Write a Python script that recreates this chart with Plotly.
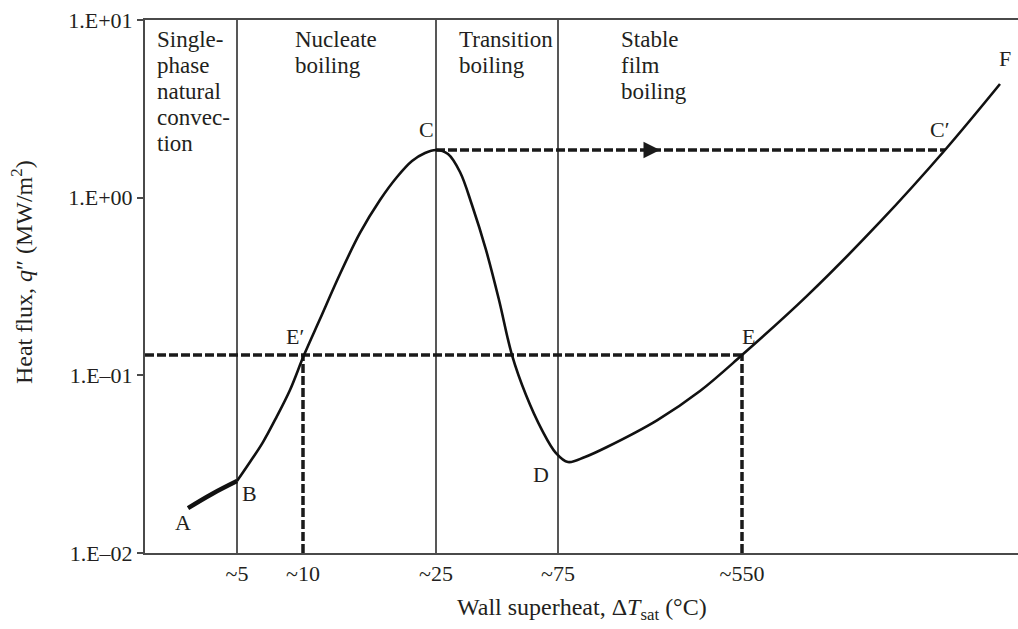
import numpy as np
import plotly.graph_objects as go

# Schematic position along the wall-superheat axis (not to scale)
x_tick_pos = [92, 158, 291, 413, 597]
x_tick_text = ["~5", "~10", "~25", "~75", "~550"]

y_tick_vals = [0.01, 0.1, 1, 10]
y_tick_text = ["1.E–02", "1.E–01", "1.E+00", "1.E+01"]

# Single-phase natural convection, A -> B
ab_pos = [43, 67, 92]
ab_q = [0.0179, 0.0215, 0.0254]

# Boiling curve, B -> E' -> C -> D -> E -> C' -> F  (MW/m2)
curve_pos = [92, 105, 118, 131, 145, 159, 175, 195, 215, 235, 252, 267, 280, 291,
             303, 315, 327, 341, 354, 367, 381, 397, 411, 423,
             440, 462, 512, 555, 597, 662, 735, 800, 855]
curve_q = [0.0254, 0.0325, 0.0421, 0.0575, 0.0827, 0.130, 0.2075, 0.372, 0.633, 0.970,
           1.307, 1.608, 1.784, 1.855,
           1.761, 1.395, 0.909, 0.508, 0.2655, 0.130, 0.0775, 0.0492, 0.0365, 0.0325,
           0.0347, 0.0395, 0.0558, 0.0816, 0.130, 0.280, 0.730, 1.855, 4.36]

# Regime boundaries
regime_bounds = [92, 291, 413]

# Key states
pos_E_prime, pos_E = 158, 597
pos_C, pos_C_prime = 291, 800
q_E = 0.130
q_C = 1.855
arrow_pos = 515

# Point labels: (text, position, q, xshift, yshift)
point_labels = [
    ("A", 43, 0.0179, -5, -14),
    ("B", 92, 0.0254, 12, -12),
    ("E′", 158, 0.130, -8, 19),
    ("C", 291, 1.855, -10, 20),
    ("C′", 800, 1.855, -5, 20),
    ("D", 423, 0.0325, -27, -12),
    ("E", 597, 0.130, 6, 19),
    ("F", 855, 4.36, 5, 26),
]

# Regime names: (lines, left position)
regime_labels = [
    (["Single-", "phase", "natural", "convec-", "tion"], 10),
    (["Nucleate", "boiling"], 148),
    (["Transition", "boiling"], 312),
    (["Stable", "film", "boiling"], 474),
]
LABEL_TOP = 0.964      # first text line centre, paper fraction
LABEL_STEP = 0.0488    # line pitch, paper fraction

FONT = "Liberation Serif"
INK = "#231f20"
AXIS = "#4a4a4a"

fig = go.Figure()

# regime boundary lines, full height
for b in regime_bounds:
    fig.add_shape(type="line", xref="x", yref="paper", x0=b, x1=b, y0=0, y1=1,
                  line=dict(color="#2e2e2e", width=1.6), layer="below")

dash = dict(color="#1a1a1a", width=3.5, dash="9px,3px")

# dashed construction lines
fig.add_trace(go.Scatter(x=[0, pos_E], y=[q_E, q_E], mode="lines", line=dash, hoverinfo="skip"))
fig.add_trace(go.Scatter(x=[pos_E_prime, pos_E_prime], y=[0.01, q_E], mode="lines", line=dash, hoverinfo="skip"))
fig.add_trace(go.Scatter(x=[pos_E, pos_E], y=[0.01, q_E], mode="lines", line=dash, hoverinfo="skip"))
fig.add_trace(go.Scatter(x=[pos_C, pos_C_prime], y=[q_C, q_C], mode="lines", line=dash, hoverinfo="skip"))

# boiling curve
fig.add_trace(go.Scatter(x=ab_pos, y=ab_q, mode="lines",
                         line=dict(color="#111111", width=4.5, shape="spline"), hoverinfo="skip"))
fig.add_trace(go.Scatter(x=curve_pos, y=curve_q, mode="lines",
                         line=dict(color="#111111", width=2.6, shape="spline", smoothing=1.0),
                         hoverinfo="skip"))

annotations = []
# arrow on the C -> C' jump
annotations.append(dict(x=arrow_pos, y=np.log10(q_C), ax=arrow_pos - 12, ay=np.log10(q_C),
                        xref="x", yref="y", axref="x", ayref="y", text="", showarrow=True,
                        arrowhead=2, arrowsize=1.1, arrowwidth=3, arrowcolor="#1a1a1a"))

for text, p, q, dx, dy in point_labels:
    annotations.append(dict(x=p, y=np.log10(q), xref="x", yref="y", text=text, showarrow=False,
                            xshift=dx, yshift=dy, font=dict(family=FONT, size=22, color=INK)))

for lines, p in regime_labels:
    for i, line in enumerate(lines):
        annotations.append(dict(x=p, y=LABEL_TOP - i * LABEL_STEP, xref="x", yref="paper",
                                text=line, showarrow=False, xanchor="left", yanchor="middle",
                                font=dict(family=FONT, size=23, color=INK)))

# axis titles
annotations.append(dict(x=0.5, y=-0.074, xref="paper", yref="paper", yanchor="top",
                        text="Wall superheat, Δ<i>T</i><sub>sat</sub> (°C)", showarrow=False,
                        font=dict(family=FONT, size=24, color=INK)))
annotations.append(dict(x=-0.141, y=0.527, xref="paper", yref="paper", textangle=-90,
                        xanchor="center", yanchor="middle",
                        text="Heat flux, <i>q</i>″ (MW/m<sup>2</sup>)", showarrow=False,
                        font=dict(family=FONT, size=24, color=INK)))

fig.update_layout(
    width=1018, height=629,
    margin=dict(l=145, r=0, t=20, b=76),
    paper_bgcolor="white", plot_bgcolor="white",
    showlegend=False,
    annotations=annotations,
    xaxis=dict(range=[0, 873], showgrid=False, zeroline=False, showline=True, mirror=True,
               linecolor=AXIS, linewidth=2, tickmode="array", tickvals=x_tick_pos,
               ticktext=x_tick_text, ticks="", tickfont=dict(family=FONT, size=22, color=INK)),
    yaxis=dict(type="log", range=[-2, 1], showgrid=False, zeroline=False, showline=True,
               linecolor=AXIS, linewidth=2, tickmode="array", tickvals=y_tick_vals,
               ticktext=y_tick_text, ticks="outside", ticklen=6, tickcolor=AXIS, tickwidth=1.5,
               tickfont=dict(family=FONT, size=22, color=INK)),
)

fig.write_html("out.html")
